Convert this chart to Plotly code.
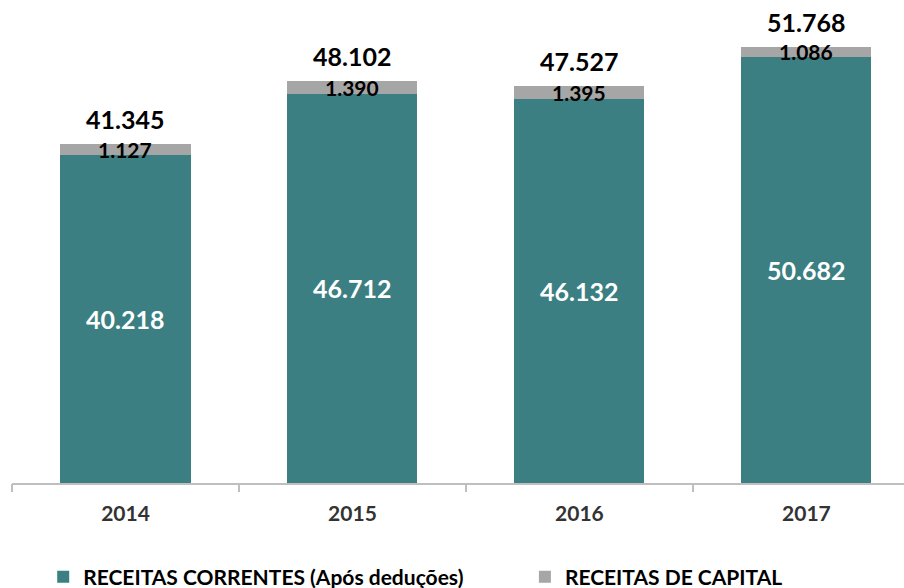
import plotly.graph_objects as go

years = ["2014", "2015", "2016", "2017"]
correntes = [40218, 46712, 46132, 50682]
capital = [1127, 1390, 1395, 1086]
totais = [41345, 48102, 47527, 51768]

teal = "#3B7F83"
grey = "#A6A6A6"
FONT = "Lato"
Y0, Y1 = 5200, 56200


def fmt(v):
    return f"{v:,}".replace(",", ".")


xs = list(range(len(years)))
fig = go.Figure()
fig.add_bar(x=xs, y=correntes, name="RECEITAS CORRENTES (Após deduções)",
            marker_color=teal, marker_line_width=0, width=0.573, legend="legend")
fig.add_bar(x=xs, y=capital, name="RECEITAS DE CAPITAL",
            marker_color=grey, marker_line_width=0, width=0.573, legend="legend2")

ann = []
for i, (c, k, t) in enumerate(zip(correntes, capital, totais)):
    ann.append(dict(x=i, y=(Y0 + c) / 2, text=fmt(c), showarrow=False,
                    font=dict(family=FONT, size=25, color="white", weight="bold"),
                    xanchor="center", yanchor="middle"))
    ann.append(dict(x=i, y=c + k / 2, text=fmt(k), showarrow=False,
                    font=dict(family=FONT, size=21, color="black", weight="bold"),
                    xanchor="center", yanchor="middle"))
    ann.append(dict(x=i, y=t, text=fmt(t), showarrow=False, yshift=25,
                    font=dict(family=FONT, size=25, color="black", weight="bold"),
                    xanchor="center", yanchor="middle"))

legfont = dict(family=FONT, size=21, color="black", weight="bold")
fig.update_layout(
    barmode="stack",
    width=904, height=588,
    margin=dict(l=12, r=0, t=5, b=105, autoexpand=False),
    paper_bgcolor="white", plot_bgcolor="white",
    annotations=ann,
    showlegend=True,
    legend=dict(orientation="h", x=0.035, xanchor="left", y=-0.197, yanchor="middle",
                font=legfont, bgcolor="rgba(0,0,0,0)"),
    legend2=dict(orientation="h", x=0.575, xanchor="left", y=-0.197, yanchor="middle",
                 font=legfont, bgcolor="rgba(0,0,0,0)"),
    xaxis=dict(range=[-0.5, 3.43], tickvals=xs, ticktext=years, ticks="",
               showline=True, linecolor="#BFBFBF", linewidth=1.5, showgrid=False,
               zeroline=False, ticklabelstandoff=11,
               tickfont=dict(family=FONT, size=21, color="#333333", weight="bold")),
    xaxis2=dict(range=[-0.5, 3.43], overlaying="x", side="bottom",
                tickvals=[-0.5, 0.5, 1.5, 2.5], ticks="outside", ticklen=8,
                tickcolor="#BFBFBF", tickwidth=1.5, showticklabels=False,
                showgrid=False, zeroline=False, showline=False),
    yaxis=dict(range=[Y0, Y1], visible=False, showgrid=False, zeroline=False),
)
fig.add_scatter(x=[None], y=[None], xaxis="x2", showlegend=False, hoverinfo="skip")
fig.write_html("out.html", config={"displayModeBar": False},
               post_script="document.body.style.margin='0';")
